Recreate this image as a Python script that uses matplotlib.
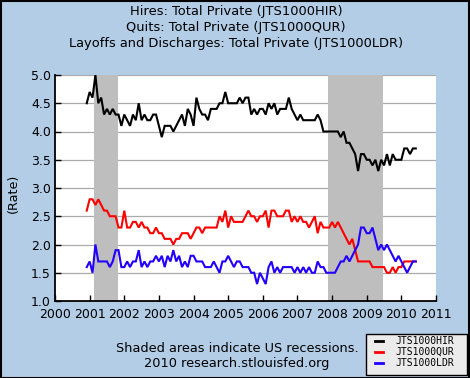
"""
JOLTS total private rates: hires, quits, layoffs and discharges (FRED style chart).
"""

import matplotlib
matplotlib.use('Agg')
import matplotlib.pyplot as plt
from matplotlib.lines import Line2D
from matplotlib.patches import Rectangle
import numpy as np

# monthly observations, Dec 2000 .. Jun 2010
START_YEAR = 2000
START_MONTH = 12

hires = [
    4.5, 4.7, 4.6, 5.0, 4.5, 4.6, 4.3, 4.4, 4.3, 4.4,
    4.3, 4.3, 4.1, 4.3, 4.2, 4.1, 4.3, 4.2, 4.5, 4.2,
    4.3, 4.2, 4.2, 4.3, 4.3, 4.1, 3.9, 4.1, 4.1, 4.1,
    4.0, 4.1, 4.2, 4.3, 4.1, 4.4, 4.3, 4.1, 4.6, 4.4,
    4.3, 4.3, 4.2, 4.4, 4.4, 4.4, 4.5, 4.5, 4.7, 4.5,
    4.5, 4.5, 4.5, 4.6, 4.5, 4.6, 4.6, 4.3, 4.4, 4.3,
    4.4, 4.4, 4.3, 4.5, 4.4, 4.5, 4.3, 4.4, 4.4, 4.4,
    4.6, 4.4, 4.3, 4.2, 4.3, 4.2, 4.2, 4.2, 4.2, 4.2,
    4.3, 4.2, 4.0, 4.0, 4.0, 4.0, 4.0, 4.0, 3.9, 4.0,
    3.8, 3.8, 3.7, 3.6, 3.3, 3.6, 3.6, 3.5, 3.5, 3.4,
    3.5, 3.3, 3.5, 3.4, 3.6, 3.4, 3.6, 3.5, 3.5, 3.5,
    3.7, 3.7, 3.6, 3.7, 3.7,
]

quits = [
    2.6, 2.8, 2.8, 2.7, 2.8, 2.7, 2.6, 2.6, 2.5, 2.5,
    2.5, 2.3, 2.3, 2.6, 2.3, 2.3, 2.4, 2.4, 2.3, 2.4,
    2.3, 2.3, 2.2, 2.2, 2.3, 2.2, 2.2, 2.1, 2.1, 2.1,
    2.0, 2.1, 2.1, 2.2, 2.2, 2.2, 2.1, 2.2, 2.3, 2.3,
    2.2, 2.3, 2.3, 2.3, 2.3, 2.3, 2.5, 2.4, 2.6, 2.3,
    2.5, 2.4, 2.4, 2.4, 2.4, 2.5, 2.6, 2.5, 2.5, 2.4,
    2.5, 2.5, 2.6, 2.3, 2.6, 2.6, 2.5, 2.5, 2.5, 2.6,
    2.6, 2.4, 2.5, 2.4, 2.5, 2.4, 2.4, 2.3, 2.4, 2.5,
    2.2, 2.4, 2.3, 2.3, 2.3, 2.4, 2.3, 2.4, 2.3, 2.2,
    2.1, 2.0, 2.1, 1.9, 1.7, 1.7, 1.7, 1.7, 1.7, 1.6,
    1.6, 1.6, 1.6, 1.6, 1.5, 1.5, 1.6, 1.5, 1.6, 1.6,
    1.7, 1.7, 1.7, 1.7, 1.7,
]

layoffs = [
    1.6, 1.7, 1.5, 2.0, 1.7, 1.7, 1.7, 1.7, 1.6, 1.7,
    1.9, 1.9, 1.6, 1.6, 1.7, 1.6, 1.7, 1.7, 1.9, 1.6,
    1.7, 1.6, 1.7, 1.7, 1.8, 1.7, 1.8, 1.6, 1.8, 1.7,
    1.9, 1.7, 1.8, 1.6, 1.7, 1.6, 1.8, 1.8, 1.7, 1.7,
    1.7, 1.6, 1.6, 1.6, 1.7, 1.6, 1.5, 1.7, 1.7, 1.8,
    1.7, 1.6, 1.7, 1.7, 1.6, 1.6, 1.6, 1.5, 1.5, 1.3,
    1.5, 1.4, 1.3, 1.6, 1.7, 1.5, 1.6, 1.5, 1.6, 1.6,
    1.6, 1.6, 1.5, 1.6, 1.5, 1.6, 1.5, 1.6, 1.5, 1.5,
    1.7, 1.6, 1.6, 1.5, 1.5, 1.5, 1.5, 1.6, 1.7, 1.7,
    1.8, 1.7, 1.8, 1.9, 2.0, 2.3, 2.3, 2.2, 2.2, 2.3,
    2.1, 1.9, 2.0, 1.9, 2.0, 1.9, 1.8, 1.7, 1.8, 1.7,
    1.6, 1.5, 1.6, 1.7, 1.7,
]

series_codes = ['JTS1000HIR', 'JTS1000QUR', 'JTS1000LDR']
series_colors = ['black', '#FF0000', '#2200FF']

titles = [
    'Hires: Total Private (JTS1000HIR)',
    'Quits: Total Private (JTS1000QUR)',
    'Layoffs and Discharges: Total Private (JTS1000LDR)',
]

# recession spans in decimal years
recessions = [(2001.13, 2001.82), (2007.89, 2009.48)]

year_ticks = list(range(2000, 2012))
rate_ticks = [1.0, 1.5, 2.0, 2.5, 3.0, 3.5, 4.0, 4.5, 5.0]

BG = '#B3CDE6'
W, H = 470, 378


def month_axis(n):
    """Decimal-year x positions for n monthly observations."""
    return START_YEAR + (START_MONTH - 1 + np.arange(n)) / 12.0


def fx(px):
    return px / W


def fy(py):
    return 1 - py / H


def main():
    plt.rcParams['font.family'] = ['DejaVu Sans']
    fig = plt.figure(figsize=(W / 100, H / 100), dpi=100, facecolor=BG)

    ax = fig.add_axes([fx(55), fy(301), 381 / W, 226 / H])
    ax.set_facecolor('white')

    for start, end in recessions:
        ax.axvspan(start, end, color='#BEBEBE', lw=0, zorder=1)

    for val in rate_ticks[1:]:
        ax.axhline(val, color='#AAAAAA', lw=0.9, zorder=0.5)

    for vals, color in zip([hires, quits, layoffs], series_colors):
        ax.plot(month_axis(len(vals)), vals, color=color, lw=1.5, zorder=3,
                solid_joinstyle='miter')

    ax.set_xlim(2000, 2011)
    ax.set_ylim(1.0, 5.0)
    ax.set_xticks(year_ticks)
    ax.set_xticklabels([str(y) for y in year_ticks])
    ax.set_yticks(rate_ticks)
    ax.set_yticklabels([f'{v:.1f}' for v in rate_ticks])
    ax.tick_params(axis='both', direction='in', length=4, width=1,
                   labelsize=9, colors='black', pad=3)
    ax.tick_params(axis='x', pad=5)

    for side in ['top', 'right']:
        ax.spines[side].set_visible(False)
    for side in ['left', 'bottom']:
        ax.spines[side].set_linewidth(1.3)
        ax.spines[side].set_color('black')

    # titles
    for i, t in enumerate(titles):
        fig.text(fx(236), fy(12 + 16 * i), t, ha='center', va='center',
                 fontsize=9.4)

    fig.text(fx(13), fy(193), '(Rate)', rotation=90, ha='center',
             va='center', fontsize=9.2)

    fig.text(fx(237), fy(348), 'Shaded areas indicate US recessions.',
             ha='center', va='center', fontsize=9.3)
    fig.text(fx(237), fy(364), '2010 research.stlouisfed.org',
             ha='center', va='center', fontsize=9.3)

    # legend box drawn by hand to match the FRED layout
    fig.patches.append(Rectangle((fx(366), fy(375)), 101 / W, 41 / H,
                                 transform=fig.transFigure, facecolor='#EBEBEB',
                                 edgecolor='black', lw=1.0, zorder=5))
    for i, (code, color) in enumerate(zip(series_codes, series_colors)):
        yy = fy(341 + 10.8 * i)
        fig.lines.append(Line2D([fx(375), fx(383)], [yy, yy], color=color,
                                lw=2, transform=fig.transFigure, zorder=6))
        fig.text(fx(395), yy, code, ha='left', va='center', fontsize=7,
                 family='DejaVu Sans Mono', zorder=6)

    fig.patches.append(Rectangle((0.5 / W, 0.5 / H), 1 - 1.5 / W, 1 - 1.5 / H,
                                 transform=fig.transFigure, fill=False,
                                 edgecolor='black', lw=1.5))

    fig.savefig('out.png', dpi=100, facecolor=BG)
    plt.close(fig)


if __name__ == '__main__':
    main()
